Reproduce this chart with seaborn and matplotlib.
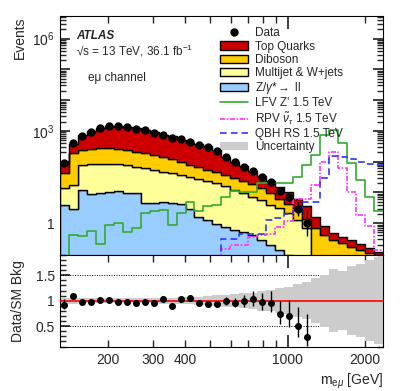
import numpy as np
import pandas as pd
import matplotlib
matplotlib.use("Agg")
import matplotlib.pyplot as plt
import matplotlib.ticker as mticker
from matplotlib.patches import Patch
from matplotlib.lines import Line2D
import seaborn as sns

# --- Config ---
sns.set_theme(style="ticks")
plt.rcParams.update({
    "font.family": ["Liberation Sans", "DejaVu Sans"],
    "mathtext.fontset": "custom",
    "mathtext.rm": "Liberation Sans",
    "mathtext.it": "Liberation Sans:italic",
    "mathtext.bf": "Liberation Sans:bold",
    "xtick.direction": "in", "ytick.direction": "in",
    "xtick.top": True, "ytick.right": True,
    "xtick.minor.top": True, "ytick.minor.right": True,
    "axes.linewidth": 0.8,
    "axes.edgecolor": "black",
})

C_TOP = "#CC0000"
C_DIB = "#FFCC00"
C_MJ = "#FFFF99"
C_Z = "#99CCFF"
C_LFV = "#33AA33"
C_RPV = "#FF33FF"
C_QBH = "#3333FF"
C_UNC = "#CCCCCC"

# --- Data (36 log bins, 130 - 2350 GeV) ---
edges = np.geomspace(130, 2350, 37)
centers = np.sqrt(edges[:-1] * edges[1:])
bin_list = edges.tolist()

z_ll = [3.9, 2.8, 12, 9, 9.8, 10.6, 11.4, 9.8, 9.4, 4.5, 4.6, 5.0, 4.6, 4.1, 2.8, 1.6, 1.3, 0.95,
        0.75, 0.6, 0.53, 0.42, 0.29, 0.2, 0.13, 0.09, 0.06, 0.04, 0.03, 0.02, 0.02, 0.01, 0.01, 0.01, 0.01, 0.01]
multijet = [9.8, 14.7, 66, 73, 74, 75, 73, 68, 60, 56, 49, 42, 37, 32, 28, 25, 22, 19,
            15, 11.4, 8.9, 6.9, 5.4, 3.7, 2.9, 2.1, 1.24, 0.66, 0.03, 0.03, 0.02, 0.02, 0.02, 0.01, 0.01, 0.01]
diboson = [28, 178, 162, 169, 188, 186, 174, 162, 142, 126, 112, 92, 78, 64, 47, 39, 31, 25,
           21, 17, 14.6, 11.2, 8.0, 5.5, 3.0, 2.0, 1.4, 0.7, 0.64, 0.35, 0.24, 0.19, 0.14, 0.11, 0.09, 0.07]
top = [59, 185, 472, 710, 958, 1124, 1196, 1127, 990, 916, 745, 592, 545, 417, 337, 310, 273, 186,
       109, 71, 46, 29.5, 19.3, 13.6, 9, 5.8, 3.3, 2.1, 0.9, 0.4, 0.2, 0.14, 0.11, 0.08, 0.05, 0.03]

data = [93, 414, 698, 942, 1242, 1410, 1410, 1340, 1153, 1070, 875, 753, 590, 533, 436, 357, 307, 215,
        145, 96, 69, 50, 32, 22, 11, 7, 3, 1]

lfv_zp = [0, 0.42, 0.37, 0.55, 0.21, 0.85, 1.0, 0.5, 0.7, 2.2, 2.5, 2.7, 0.9, 2.2, 5.0, 2.4, 3.7, 3.9,
          7.0, 11, 10.6, 10.6, 20, 20, 20, 20, 32, 78, 165, 750, 1070, 394, 89, 25, 7.3, 2.4]
rpv_snu = [0, 0, 0, 0, 0, 0, 0, 0, 0, 0, 0, 0, 0, 0, 0, 0, 0, 0,
           0.15, 0.2, 0.2, 0.35, 0.4, 0.45, 0.78, 1.2, 6.0, 6.0, 17.5, 100, 210, 61, 10.6, 1.9, 0.8, 0.13]
qbh_rs = [0, 0, 0, 0, 0, 0, 0, 0, 0, 0, 0, 0, 0, 0, 0, 0, 0, 0,
          0.3, 0.3, 0.45, 0.45, 0.45, 1.3, 1.5, 2.0, 2.5, 5.0, 5.0, 29, 150, 145, 120, 100, 85, 75]

# relative background uncertainty per bin
rel_unc = [0.06, 0.06, 0.05, 0.05, 0.05, 0.05, 0.05, 0.05, 0.05, 0.05, 0.05, 0.06, 0.06, 0.07, 0.07, 0.08, 0.09, 0.11,
           0.12, 0.13, 0.15, 0.16, 0.2, 0.21, 0.25, 0.27, 0.32, 0.36, 0.44, 0.51, 0.62, 0.58, 0.68, 0.72, 0.8, 0.85]

procs = ["Top Quarks", "Diboson", "Multijet & W+jets", r"Z/$\gamma$*$\rightarrow$ ll"]
df = pd.concat([
    pd.DataFrame({"m": centers, "n": vals, "process": name})
    for name, vals in zip(procs, [top, diboson, multijet, z_ll])
])

bkg = np.array(top) + np.array(diboson) + np.array(multijet) + np.array(z_ll)
nd = np.array(data, dtype=float)
xd = centers[:len(nd)]
err_hi = 0.5 + np.sqrt(nd + 0.25)
err_lo = -0.5 + np.sqrt(nd + 0.25)

# --- Plotting ---
fig = plt.figure(figsize=(4.07, 3.91), dpi=100)
ax = fig.add_axes([0.147, 0.348, 0.794, 0.611])
axr = fig.add_axes([0.147, 0.1125, 0.794, 0.2355])

sns.histplot(data=df, x="m", weights="n", hue="process", hue_order=procs,
             palette=[C_TOP, C_DIB, C_MJ, C_Z], bins=bin_list, multiple="stack",
             element="step", alpha=1, edgecolor="black", linewidth=1,
             legend=False, ax=ax)

for vals, col, ls in [(lfv_zp, C_LFV, "-"), (rpv_snu, C_RPV, (0, (3, 1, 1, 1))), (qbh_rs, C_QBH, (0, (4, 2.5)))]:
    sns.histplot(x=centers, weights=vals, bins=bin_list, element="step", fill=False,
                 color=col, linewidth=1.2, linestyle=ls, ax=ax)

ax.errorbar(xd, nd, yerr=[err_lo, err_hi], fmt="o", color="black", ms=5, elinewidth=1, capsize=0, zorder=10)

# x axis (both panels): 1000 long tick, others short
lab_x = {200: "200", 300: "300", 400: "400", 1000: "1000", 2000: "2000"}
minor_x = [200, 300, 400, 500, 600, 700, 800, 900, 2000]
for a in (ax, axr):
    a.set_xscale("log")
    a.set_xlim(edges[0], edges[-1])
    a.xaxis.set_major_locator(mticker.FixedLocator([1000]))
    a.xaxis.set_minor_locator(mticker.FixedLocator(minor_x))
    a.tick_params(axis="x", which="major", length=9)
    a.tick_params(axis="x", which="minor", length=5)

ax.set_yscale("log")
ax.set_ylim(0.093, 5.4e6)
ax.set_xlabel("")
ax.set_ylabel("Events", loc="top", fontsize=10)
ax.yaxis.set_major_locator(mticker.LogLocator(base=10, numticks=20))
ax.yaxis.set_minor_locator(mticker.LogLocator(base=10, subs=np.arange(2, 10), numticks=20))
ax.yaxis.set_major_formatter(mticker.FuncFormatter(
    lambda v, p: "1" if abs(v - 1) < 1e-9 else (f"$10^{{{int(round(np.log10(v)))}}}$" if int(round(np.log10(v))) in (3, 6) else "")))
ax.yaxis.set_minor_formatter(mticker.NullFormatter())
ax.xaxis.set_major_formatter(mticker.NullFormatter())
ax.xaxis.set_minor_formatter(mticker.NullFormatter())
ax.tick_params(axis="y", which="major", length=7, labelsize=10)
ax.tick_params(axis="y", which="minor", length=4)

ax.text(0.052, 0.916, "ATLAS", transform=ax.transAxes, fontsize=8.5, fontweight="bold", style="italic", va="center")
ax.text(0.05, 0.854, "\u221as = 13 TeV, 36.1 fb$^{-1}$", transform=ax.transAxes, fontsize=8.5, va="center")
ax.text(0.087, 0.74, "e\u03bc channel", transform=ax.transAxes, fontsize=8.5, va="center")

handles = [
    Line2D([], [], marker="o", color="black", ls="none", ms=5),
    Patch(facecolor=C_TOP, edgecolor="black", lw=1),
    Patch(facecolor=C_DIB, edgecolor="black", lw=1),
    Patch(facecolor=C_MJ, edgecolor="black", lw=1),
    Patch(facecolor=C_Z, edgecolor="black", lw=1),
    Line2D([], [], color=C_LFV, lw=1.2),
    Line2D([], [], color=C_RPV, lw=1.2, ls=(0, (3, 1, 1, 1))),
    Line2D([], [], color=C_QBH, lw=1.2, ls=(0, (4, 2.5))),
    Patch(facecolor=C_UNC, edgecolor="none"),
]
labels = ["Data", "Top Quarks", "Diboson", "Multijet & W+jets", r"Z/$\gamma$*$\rightarrow$ ll",
          "LFV Z' 1.5 TeV", r"RPV $\tilde{\nu}_{\tau}$ 1.5 TeV", "QBH RS 1.5 TeV", "Uncertainty"]
ax.legend(handles, labels, loc="upper left", bbox_to_anchor=(0.495, 0.952), frameon=False,
          fontsize=8.5, handlelength=2.4, handleheight=0.7, labelspacing=0.1, handletextpad=0.6,
          borderaxespad=0, borderpad=0)

# --- Ratio panel ---
lo = np.r_[1 - np.array(rel_unc), 1 - rel_unc[-1]]
hi = np.r_[1 + np.array(rel_unc), 1 + rel_unc[-1]]
for yv in (0.5, 1.5):
    axr.axhline(yv, color="black", ls=(0, (1, 1.5)), lw=0.7, zorder=1)
axr.fill_between(edges, lo, hi, step="post", color=C_UNC, lw=0, zorder=2)
axr.axhline(1.0, color="red", lw=1.2, zorder=3)
ratio = nd / bkg[:len(nd)]
axr.errorbar(xd, ratio, yerr=[err_lo / bkg[:len(nd)], err_hi / bkg[:len(nd)]], fmt="o",
             color="black", ms=4, elinewidth=1, capsize=0, zorder=10)
axr.set_ylim(0.09, 1.9)
axr.set_yticks([0.5, 1, 1.5])
axr.set_yticklabels(["0.5", "1", "1.5"])
axr.yaxis.set_minor_locator(mticker.MultipleLocator(0.1))
axr.tick_params(axis="y", which="major", length=7, labelsize=10)
axr.tick_params(axis="y", which="minor", length=4)
axr.set_ylabel("Data/SM Bkg", fontsize=10)

xfmt = mticker.FuncFormatter(lambda v, p: lab_x.get(int(round(v)), ""))
axr.xaxis.set_major_formatter(xfmt)
axr.xaxis.set_minor_formatter(xfmt)
axr.tick_params(axis="x", which="both", labelsize=10, pad=4)
axr.set_xlabel(r"m$_{\mathrm{e}\mu}$ [GeV]", loc="right", fontsize=10)
ax.yaxis.set_label_coords(-0.102, 1.0)
axr.yaxis.set_label_coords(-0.108, 0.5)

fig.savefig("out.png", dpi=100)
